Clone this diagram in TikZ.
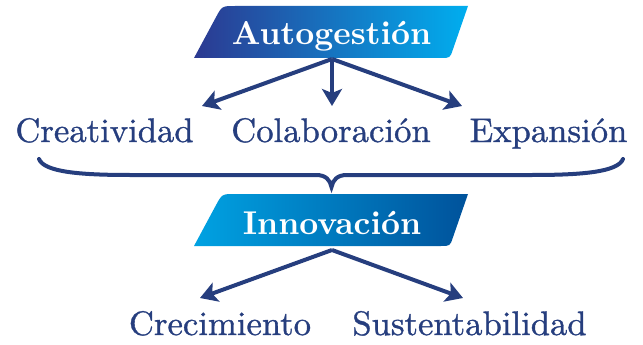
\documentclass[tikz,border=0pt]{standalone}
\usetikzlibrary{arrows.meta, positioning}
\definecolor{navyblue}{RGB}{38,62,126}
\definecolor{bannerdark}{RGB}{44,57,145}
\definecolor{bannercyan}{RGB}{0,174,239}
\definecolor{bannerlight}{RGB}{0,162,226}
\definecolor{bannerdeep}{RGB}{0,82,155}
\font\wordfnt="[lmroman10-regular.otf]:embolden=1.0;extend=1.02" at 34pt
\font\titlefnt="[lmroman10-bold.otf]:extend=1.0" at 33pt

\begin{document}
\begin{tikzpicture}[x=1pt, y=-1pt,
    word/.style={anchor=base, inner sep=0pt, text=navyblue, font=\wordfnt},
    title/.style={anchor=base, inner sep=0pt, text=white, font=\titlefnt},
    arrow/.style={navyblue, line width=4pt, -{Stealth[length=17pt, width=20pt, inset=4pt]}}]
    \useasboundingbox (0,0) rectangle (643,345);

    % Banners
    \shade[left color=bannerdark, right color=bannercyan] (194,58) -- (215.8,17.5) .. controls (222,6) .. (235,6) -- (468,6) -- (452.9,49.5) .. controls (450,58) .. (441,58) -- cycle;
    \begin{scope}[shift={(0,188)}]
        \shade[left color=bannerlight, right color=bannerdeep] (194,58) -- (215.8,17.5) .. controls (222,6) .. (235,6) -- (468,6) -- (452.9,49.5) .. controls (450,58) .. (441,58) -- cycle;
    \end{scope}
    \node[title] (autogestion) at (331.5,45) {Autogestión};
    \node[title] (innovacion) at (332,234) {Innovación};

    % Words
    \node[word] (creatividad) at (104.5,142) {Creatividad};
    \node[word] (colaboracion) at (331,142) {Colaboración};
    \node[word] (expansion) at (548.5,142) {Expansión};
    \node[word] (crecimiento) at (220,335) {Crecimiento};
    \node[word] (sustentabilidad) at (469.5,335) {Sustentabilidad};

    % Arrow ends
    \coordinate (topsplit) at (332,59);
    \coordinate (creatip) at (202,106);
    \coordinate (colabtip) at (332,106);
    \coordinate (expantip) at (462,106);
    \coordinate (botsplit) at (332,250);
    \coordinate (crectip) at (200,298);
    \coordinate (sustip) at (463,298);

    \draw[arrow] (topsplit) -- (creatip);
    \draw[arrow] (topsplit) -- (colabtip);
    \draw[arrow] (topsplit) -- (expantip);
    \draw[arrow] (botsplit) -- (crectip);
    \draw[arrow] (botsplit) -- (sustip);

    % Brace
    \draw[navyblue, line width=4pt, line cap=round] (39,159) .. controls (44,172) and (80,175) .. (130,175) -- (316,175) .. controls (326,175) and (330,180) .. (331.5,187) .. controls (333,180) and (337,175) .. (347,175) -- (532,175) .. controls (582,175) and (618,172) .. (623,159);
\end{tikzpicture}
\end{document}
